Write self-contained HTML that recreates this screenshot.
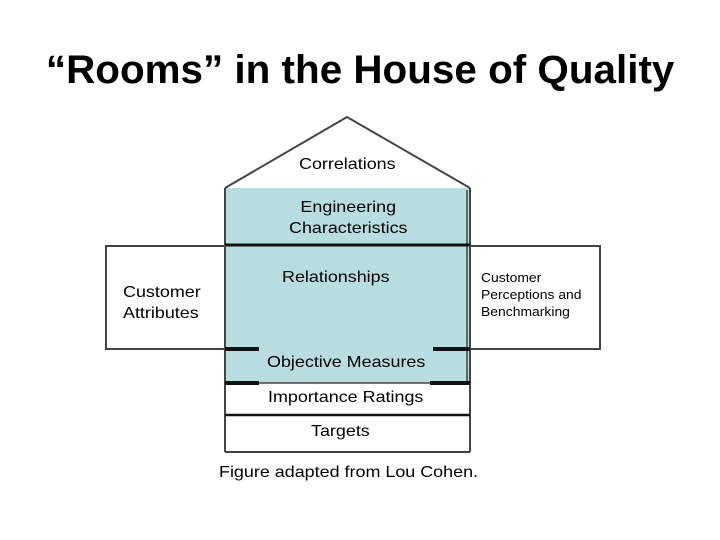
<!DOCTYPE html>
<html><head><meta charset="utf-8"><style>
body{margin:0;width:720px;height:540px;background:#fff;overflow:hidden;position:relative;font-family:"Liberation Sans",sans-serif;}
.t{position:absolute;white-space:nowrap;color:#000;transform-origin:left top;transform:scaleX(1.12);}
</style></head><body>
<div style="position:absolute;left:0;width:720px;top:48px;text-align:center;font-size:40px;font-weight:bold;white-space:nowrap;"><span style="display:inline-block;transform:scaleX(1.01);">“Rooms” in the House of Quality</span></div>
<svg width="720" height="540" style="position:absolute;left:0;top:0">
<rect x="225" y="188" width="245" height="195" fill="#b8dde1"/>
<polyline points="225,188 347,117 470,188" fill="none" stroke="#444" stroke-width="2"/>
<line x1="225" y1="188" x2="225" y2="452" stroke="#444" stroke-width="2"/>
<line x1="470" y1="188" x2="470" y2="452" stroke="#444" stroke-width="2"/>
<line x1="467" y1="190" x2="467" y2="383" stroke="#444" stroke-width="1.5"/>
<line x1="225" y1="245" x2="470" y2="245" stroke="#111" stroke-width="3"/>
<rect x="106" y="246" width="119" height="103" fill="#fff" stroke="#444" stroke-width="2"/>
<rect x="470" y="246" width="130" height="103" fill="#fff" stroke="#444" stroke-width="2"/>
<line x1="225" y1="349" x2="259" y2="349" stroke="#111" stroke-width="4"/>
<line x1="433" y1="349" x2="470" y2="349" stroke="#111" stroke-width="4"/>
<line x1="225" y1="383" x2="259" y2="383" stroke="#111" stroke-width="4"/>
<line x1="430" y1="383" x2="470" y2="383" stroke="#111" stroke-width="4"/>
<line x1="259" y1="383" x2="430" y2="383" stroke="#444" stroke-width="1.5"/>
<line x1="225" y1="415" x2="470" y2="415" stroke="#111" stroke-width="2.5"/>
<line x1="225" y1="452" x2="470" y2="452" stroke="#444" stroke-width="2"/>
</svg>
<div class="t" style="left:299px;top:156px;font-size:16px;">Correlations</div>
<div class="t" style="left:289px;top:197px;font-size:16px;line-height:21px;text-align:center;">Engineering<br>Characteristics</div>
<div class="t" style="left:282px;top:269px;font-size:16px;">Relationships</div>
<div class="t" style="left:123px;top:282px;font-size:16px;line-height:21px;">Customer<br>Attributes</div>
<div class="t" style="left:481px;top:269px;font-size:13px;line-height:17px;transform:scaleX(1.07);">Customer<br>Perceptions and<br>Benchmarking</div>
<div class="t" style="left:267px;top:354px;font-size:16px;">Objective Measures</div>
<div class="t" style="left:268px;top:389px;font-size:16px;">Importance Ratings</div>
<div class="t" style="left:311px;top:423px;font-size:16px;">Targets</div>
<div class="t" style="left:219px;top:464px;font-size:16px;">Figure adapted from Lou Cohen.</div>
</body></html>
